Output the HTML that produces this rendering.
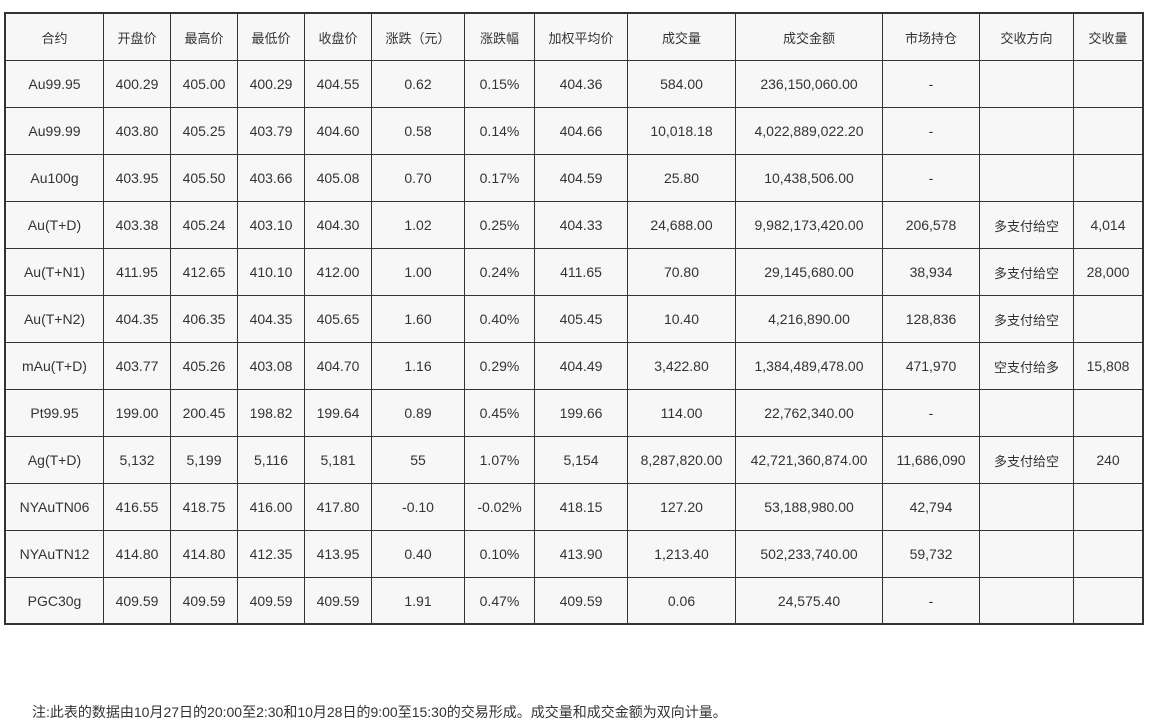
<!DOCTYPE html>
<html><head><meta charset="utf-8"><style>
body{margin:0;width:1150px;height:725px;background:#fff;position:relative;overflow:hidden;font-family:"Liberation Sans","Noto Sans CJK SC",sans-serif;color:#333}
.t{position:absolute;left:4px;top:12px;width:1140px;height:613px;box-sizing:border-box;border:2px solid #333;background:#333;display:grid;grid-template-columns:97px 66px 66px 66px 66px 92px 69px 92px 107px 146px 96px 93px 68px;grid-template-rows:46px repeat(12,46px);gap:1px;overflow:hidden}
.t div{background:#f7f7f7;display:flex;align-items:center;justify-content:center;font-size:14px;white-space:nowrap}
.n{position:absolute;left:32px;top:702px;font-size:14px}
</style></head><body>
<div class="t">
<div style="font-size:13px">合约</div><div style="font-size:13px">开盘价</div><div style="font-size:13px">最高价</div><div style="font-size:13px">最低价</div><div style="font-size:13px">收盘价</div><div style="font-size:13px">涨跌（元）</div><div style="font-size:13px">涨跌幅</div><div style="font-size:13px">加权平均价</div><div style="font-size:13px">成交量</div><div style="font-size:13px">成交金额</div><div style="font-size:13px">市场持仓</div><div style="font-size:13px">交收方向</div><div style="font-size:13px">交收量</div>
<div>Au99.95</div><div>400.29</div><div>405.00</div><div>400.29</div><div>404.55</div><div>0.62</div><div>0.15%</div><div>404.36</div><div>584.00</div><div>236,150,060.00</div><div>-</div><div></div><div></div>
<div>Au99.99</div><div>403.80</div><div>405.25</div><div>403.79</div><div>404.60</div><div>0.58</div><div>0.14%</div><div>404.66</div><div>10,018.18</div><div>4,022,889,022.20</div><div>-</div><div></div><div></div>
<div>Au100g</div><div>403.95</div><div>405.50</div><div>403.66</div><div>405.08</div><div>0.70</div><div>0.17%</div><div>404.59</div><div>25.80</div><div>10,438,506.00</div><div>-</div><div></div><div></div>
<div>Au(T+D)</div><div>403.38</div><div>405.24</div><div>403.10</div><div>404.30</div><div>1.02</div><div>0.25%</div><div>404.33</div><div>24,688.00</div><div>9,982,173,420.00</div><div>206,578</div><div style="font-size:13px">多支付给空</div><div>4,014</div>
<div>Au(T+N1)</div><div>411.95</div><div>412.65</div><div>410.10</div><div>412.00</div><div>1.00</div><div>0.24%</div><div>411.65</div><div>70.80</div><div>29,145,680.00</div><div>38,934</div><div style="font-size:13px">多支付给空</div><div>28,000</div>
<div>Au(T+N2)</div><div>404.35</div><div>406.35</div><div>404.35</div><div>405.65</div><div>1.60</div><div>0.40%</div><div>405.45</div><div>10.40</div><div>4,216,890.00</div><div>128,836</div><div style="font-size:13px">多支付给空</div><div></div>
<div>mAu(T+D)</div><div>403.77</div><div>405.26</div><div>403.08</div><div>404.70</div><div>1.16</div><div>0.29%</div><div>404.49</div><div>3,422.80</div><div>1,384,489,478.00</div><div>471,970</div><div style="font-size:13px">空支付给多</div><div>15,808</div>
<div>Pt99.95</div><div>199.00</div><div>200.45</div><div>198.82</div><div>199.64</div><div>0.89</div><div>0.45%</div><div>199.66</div><div>114.00</div><div>22,762,340.00</div><div>-</div><div></div><div></div>
<div>Ag(T+D)</div><div>5,132</div><div>5,199</div><div>5,116</div><div>5,181</div><div>55</div><div>1.07%</div><div>5,154</div><div>8,287,820.00</div><div>42,721,360,874.00</div><div>11,686,090</div><div style="font-size:13px">多支付给空</div><div>240</div>
<div>NYAuTN06</div><div>416.55</div><div>418.75</div><div>416.00</div><div>417.80</div><div>-0.10</div><div>-0.02%</div><div>418.15</div><div>127.20</div><div>53,188,980.00</div><div>42,794</div><div></div><div></div>
<div>NYAuTN12</div><div>414.80</div><div>414.80</div><div>412.35</div><div>413.95</div><div>0.40</div><div>0.10%</div><div>413.90</div><div>1,213.40</div><div>502,233,740.00</div><div>59,732</div><div></div><div></div>
<div>PGC30g</div><div>409.59</div><div>409.59</div><div>409.59</div><div>409.59</div><div>1.91</div><div>0.47%</div><div>409.59</div><div>0.06</div><div>24,575.40</div><div>-</div><div></div><div></div>
</div>
<div class="n">注:此表的数据由10月27日的20:00至2:30和10月28日的9:00至15:30的交易形成。成交量和成交金额为双向计量。</div>
</body></html>
